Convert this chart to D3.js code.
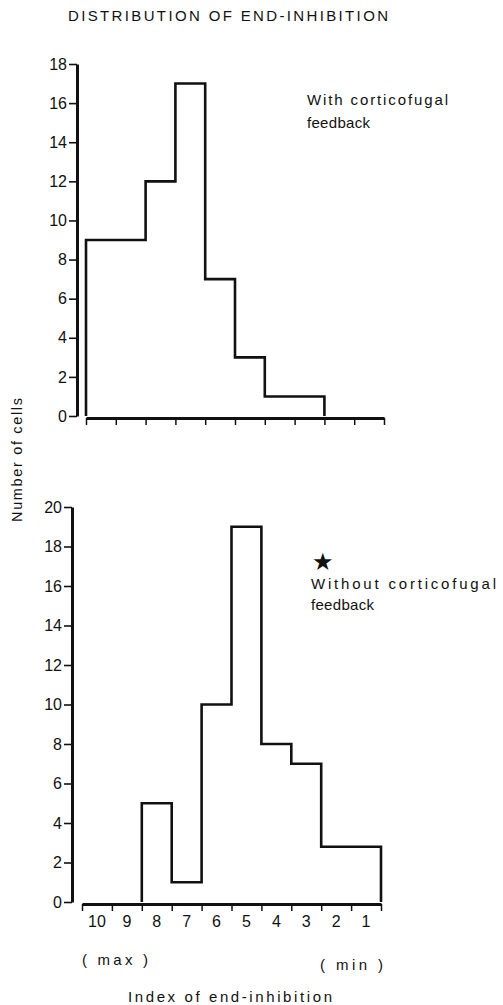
<!DOCTYPE html>
<html>
<head>
<meta charset="utf-8">
<script src="https://cdn.jsdelivr.net/npm/d3@7"></script>
<style>
  html, body { margin: 0; padding: 0; background: #fff; }
  svg { display: block; }
  text { font-family: "Liberation Sans", Arial, Helvetica, sans-serif; fill: #111; }
</style>
</head>
<body>
<svg id="chart" width="503" height="1005"></svg>
<script>
// ---- data ----
const binLabels = ["10", "9", "8", "7", "6", "5", "4", "3", "2", "1"];
const withFeedback = [9, 9, 12, 17, 7, 3, 1, 1, 0, 0];
const withoutFeedback = [0, 0, 5, 1, 10, 19, 8, 7, 2.8, 2.8];
const topYTicks = [0, 2, 4, 6, 8, 10, 12, 14, 16, 18];
const bottomYTicks = [0, 2, 4, 6, 8, 10, 12, 14, 16, 18, 20];
const titleText = "DISTRIBUTION OF END-INHIBITION";
const yLabelText = "Number of cells";
const xLabelText = "Index of end-inhibition";

const svg = d3.select("#chart");
const ink = "#111";
const FF = "'Liberation Sans', Arial, sans-serif";

function drawPanel(cfg) {
  const g = svg.append("g");
  const xb = d3.scaleBand().domain(binLabels).range([cfg.x0, cfg.x1]).paddingInner(0).paddingOuter(0);
  const xl = d3.scaleLinear().domain([0, binLabels.length]).range([cfg.x0, cfg.x1]);
  const y = d3.scaleLinear().domain([0, cfg.yMax]).range([cfg.yBottom, cfg.yTop]);

  // y axis
  const ya = g.append("g").attr("transform", `translate(${cfg.yAxisX},0)`)
    .call(d3.axisLeft(y).tickValues(cfg.yTicks).tickSize(8).tickPadding(2).tickSizeOuter(0));
  ya.attr("font-size", null).attr("font-family", null);
  ya.select(".domain").attr("stroke", ink).attr("stroke-width", 3);
  ya.selectAll(".tick line").attr("stroke", ink).attr("stroke-width", 1.6);
  ya.selectAll(".tick text").attr("font-size", 16).attr("fill", ink).attr("font-family", FF);

  // x axis (tick marks at bin boundaries)
  const xa = g.append("g").attr("transform", `translate(0,${cfg.baseY})`)
    .call(d3.axisBottom(xl).tickValues(d3.range(binLabels.length + 1)).tickSize(7).tickFormat("").tickSizeOuter(0));
  xa.select(".domain").attr("stroke", ink).attr("stroke-width", 3);
  xa.selectAll(".tick line").attr("stroke", ink).attr("stroke-width", 1.5);

  if (cfg.labels) {
    const xt = g.append("g").attr("transform", `translate(0,${cfg.baseY})`)
      .call(d3.axisBottom(xb).tickSize(0).tickPadding(12));
    xt.attr("font-size", null).attr("font-family", null);
    xt.select(".domain").remove();
    xt.selectAll(".tick text").attr("font-size", 16).attr("fill", ink).attr("font-family", FF);
  }

  // histogram outline
  const pts = [];
  const firstIdx = cfg.values.findIndex(v => v > 0);
  let lastIdx = cfg.values.length - 1;
  while (lastIdx > 0 && cfg.values[lastIdx] === 0) lastIdx--;
  pts.push([xl(firstIdx), y(0)]);
  for (let i = firstIdx; i <= lastIdx; i++) {
    pts.push([xl(i), y(cfg.values[i])]);
    pts.push([xl(i + 1), y(cfg.values[i])]);
  }
  pts.push([xl(lastIdx + 1), y(0)]);
  g.append("path")
    .attr("d", d3.line()(pts))
    .attr("fill", "none").attr("stroke", ink).attr("stroke-width", 2.6)
    .attr("stroke-linejoin", "miter");
  return { xb, xl, y };
}

drawPanel({ x0: 86, x1: 384, yAxisX: 77, yTop: 64, yBottom: 416, baseY: 418, yMax: 18,
            yTicks: topYTicks, values: withFeedback, labels: false });
drawPanel({ x0: 82, x1: 381, yAxisX: 72, yTop: 507, yBottom: 902, baseY: 904, yMax: 20,
            yTicks: bottomYTicks, values: withoutFeedback, labels: true });

// title
svg.append("text").attr("x", 68).attr("y", 21)
  .attr("textLength", 320).attr("lengthAdjust", "spacing")
  .style("font-size", "15px").text(titleText);

// y label
svg.append("text")
  .attr("transform", "translate(22,460) rotate(-90)")
  .attr("text-anchor", "middle")
  .attr("textLength", 124).attr("lengthAdjust", "spacing")
  .style("font-size", "14.5px")
  .text(yLabelText);

// legends
svg.append("text").attr("x", 307).attr("y", 105).attr("textLength", 141).attr("lengthAdjust", "spacing")
  .style("font-size", "15px").text("With corticofugal");
svg.append("text").attr("x", 307).attr("y", 128).attr("textLength", 63).attr("lengthAdjust", "spacing")
  .style("font-size", "15px").text("feedback");

svg.append("text").attr("x", 323).attr("y", 570).attr("text-anchor", "middle")
  .style("font-size", "24px").text("★");
svg.append("text").attr("x", 311).attr("y", 589).attr("textLength", 185).attr("lengthAdjust", "spacing")
  .style("font-size", "15px").text("Without corticofugal");
svg.append("text").attr("x", 311).attr("y", 610).attr("textLength", 63).attr("lengthAdjust", "spacing")
  .style("font-size", "15px").text("feedback");

// bottom annotations
svg.append("text").attr("x", 82).attr("y", 965).attr("textLength", 66).attr("lengthAdjust", "spacing")
  .style("font-size", "15px").text("( max )");
svg.append("text").attr("x", 320).attr("y", 970).attr("textLength", 63).attr("lengthAdjust", "spacing")
  .style("font-size", "15px").text("( min )");
svg.append("text").attr("x", 128).attr("y", 1002).attr("textLength", 204).attr("lengthAdjust", "spacing")
  .style("font-size", "15px").text(xLabelText);
</script>
</body>
</html>
